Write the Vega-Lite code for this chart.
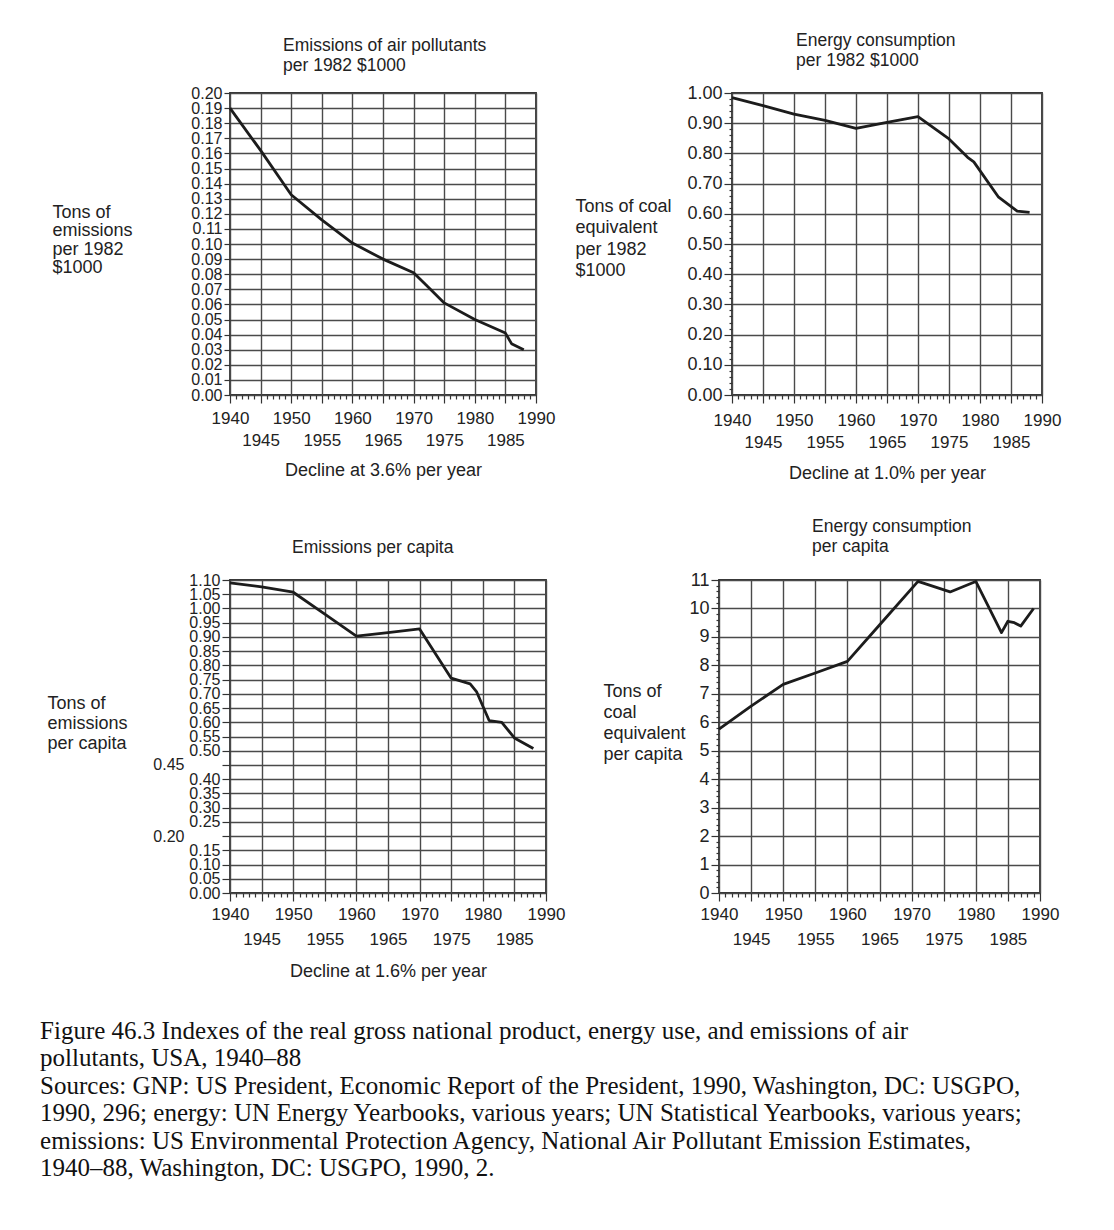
{
  "$schema": "https://vega.github.io/schema/vega-lite/v6.json",
  "background": "white",
  "padding": {"left": 40, "top": 30, "right": 10, "bottom": 10},
  "config": {
    "font": "Liberation Sans",
    "view": {"stroke": "#333", "strokeWidth": 1.8},
    "axis": {
      "labelFont": "Liberation Sans", "labelFontSize": 17, "labelColor": "#222",
      "titleFont": "Liberation Sans", "titleFontSize": 18, "titleFontWeight": "normal", "titleColor": "#222",
      "gridColor": "#4a4a4a", "gridWidth": 1.4, "tickColor": "#333", "tickWidth": 1.2,
      "domain": false, "labelOverlap": false, "labelFlush": false
    },
    "title": {"font": "Liberation Sans", "fontSize": 17.5, "fontWeight": "normal", "color": "#222", "anchor": "start", "frame": "group", "lineHeight": 20, "offset": 11},
    "line": {"color": "#1c1c1c", "strokeWidth": 2.8, "strokeJoin": "round"}
  },
  "title": {
    "text": [
      "Figure 46.3  Indexes of the real gross national product, energy use, and emissions of air",
      "pollutants, USA, 1940–88",
      "Sources: GNP: US President, Economic Report of the President, 1990, Washington, DC: USGPO,",
      "1990, 296; energy: UN Energy Yearbooks, various years; UN Statistical Yearbooks, various years;",
      "emissions: US Environmental Protection Agency, National Air Pollutant Emission Estimates,",
      "1940–88, Washington, DC: USGPO, 1990, 2."
    ],
    "orient": "bottom", "anchor": "start", "frame": "bounds",
    "font": "Liberation Serif", "fontSize": 25, "fontWeight": "normal", "lineHeight": 27.5,
    "color": "#111", "offset": 38, "dx": -6
  },
  "datasets": {
    "tl": [
      {"year": 1940, "value": 0.190}, {"year": 1945, "value": 0.162}, {"year": 1950, "value": 0.1326},
      {"year": 1955, "value": 0.116}, {"year": 1960, "value": 0.1006}, {"year": 1965, "value": 0.090},
      {"year": 1970, "value": 0.081}, {"year": 1972, "value": 0.073}, {"year": 1975, "value": 0.061},
      {"year": 1980, "value": 0.050}, {"year": 1985, "value": 0.041}, {"year": 1986, "value": 0.034},
      {"year": 1988, "value": 0.030}
    ],
    "tr": [
      {"year": 1940, "value": 0.985}, {"year": 1945, "value": 0.958}, {"year": 1950, "value": 0.930},
      {"year": 1955, "value": 0.909}, {"year": 1960, "value": 0.883}, {"year": 1965, "value": 0.903},
      {"year": 1970, "value": 0.922}, {"year": 1975, "value": 0.848}, {"year": 1978, "value": 0.787},
      {"year": 1979, "value": 0.772}, {"year": 1983, "value": 0.655}, {"year": 1986, "value": 0.609},
      {"year": 1988, "value": 0.605}
    ],
    "bl": [
      {"year": 1940, "value": 1.09}, {"year": 1945, "value": 1.076}, {"year": 1950, "value": 1.057},
      {"year": 1955, "value": 0.98}, {"year": 1960, "value": 0.903}, {"year": 1965, "value": 0.915},
      {"year": 1970, "value": 0.928}, {"year": 1975, "value": 0.755}, {"year": 1978, "value": 0.735},
      {"year": 1979, "value": 0.708}, {"year": 1981, "value": 0.606}, {"year": 1983, "value": 0.600},
      {"year": 1985, "value": 0.545}, {"year": 1988, "value": 0.508}
    ],
    "br": [
      {"year": 1940, "value": 5.76}, {"year": 1945, "value": 6.57}, {"year": 1950, "value": 7.33},
      {"year": 1955, "value": 7.73}, {"year": 1960, "value": 8.14}, {"year": 1965, "value": 9.42},
      {"year": 1971, "value": 10.95}, {"year": 1976, "value": 10.58}, {"year": 1980, "value": 10.95},
      {"year": 1984, "value": 9.15}, {"year": 1985, "value": 9.55}, {"year": 1986, "value": 9.5},
      {"year": 1987, "value": 9.38}, {"year": 1989, "value": 10.0}
    ]
  },
  "spacing": 33,
  "vconcat": [
    {
      "spacing": 18,
      "hconcat": [
        {
          "data": {"name": "tl"},
          "width": 306, "height": 302,
          "title": {"text": ["Emissions of air pollutants", "per 1982 $1000"], "dx": 53},
          "mark": {"type": "line"},
          "encoding": {
            "x": {"field": "year", "type": "quantitative", "scale": {"domain": [1940, 1990], "nice": false, "zero": false},
              "axis": {"values": [1940,1941,1942,1943,1944,1945,1946,1947,1948,1949,1950,1951,1952,1953,1954,1955,1956,1957,1958,1959,1960,1961,1962,1963,1964,1965,1966,1967,1968,1969,1970,1971,1972,1973,1974,1975,1976,1977,1978,1979,1980,1981,1982,1983,1984,1985,1986,1987,1988,1989,1990],
                "format": "d", "labelExpr": "datum.value % 5 == 0 ? datum.label : ''",
                "tickSize": {"condition": {"test": "datum.value % 5 == 0", "value": 8}, "value": 4},
                "gridOpacity": {"condition": {"test": "datum.value % 5 == 0", "value": 1}, "value": 0},
                "labelPadding": {"condition": {"test": "datum.value % 10 == 5", "value": 29}, "value": 7},
                "title": "Decline at 3.6% per year", "titlePadding": 13}},
            "y": {"field": "value", "type": "quantitative", "scale": {"domain": [0, 0.2], "nice": false},
              "axis": {"values": [0,0.01,0.02,0.03,0.04,0.05,0.06,0.07,0.08,0.09,0.1,0.11,0.12,0.13,0.14,0.15,0.16,0.17,0.18,0.19,0.2],
                "format": ".2f", "tickSize": 6, "labelPadding": 2, "labelFontSize": 16,
                "title": ["Tons of", "emissions", "per 1982", "$1000"], "titleAngle": 0, "titleAlign": "left", "titleBaseline": "top",
                "titleX": -178, "titleY": 110, "titleLineHeight": 18.5}}
          }
        },
        {
          "data": {"name": "tr"},
          "width": 310, "height": 302,
          "title": {"text": ["Energy consumption", "per 1982 $1000"], "dx": 64, "offset": 15},
          "mark": {"type": "line"},
          "encoding": {
            "x": {"field": "year", "type": "quantitative", "scale": {"domain": [1940, 1990], "nice": false, "zero": false},
              "axis": {"values": [1940,1941,1942,1943,1944,1945,1946,1947,1948,1949,1950,1951,1952,1953,1954,1955,1956,1957,1958,1959,1960,1961,1962,1963,1964,1965,1966,1967,1968,1969,1970,1971,1972,1973,1974,1975,1976,1977,1978,1979,1980,1981,1982,1983,1984,1985,1986,1987,1988,1989,1990],
                "format": "d", "labelExpr": "datum.value % 5 == 0 ? datum.label : ''",
                "tickSize": {"condition": {"test": "datum.value % 5 == 0", "value": 8}, "value": 4},
                "gridOpacity": {"condition": {"test": "datum.value % 5 == 0", "value": 1}, "value": 0},
                "labelPadding": {"condition": {"test": "datum.value % 10 == 5", "value": 31}, "value": 9},
                "title": "Decline at 1.0% per year", "titlePadding": 14}},
            "y": {"field": "value", "type": "quantitative", "scale": {"domain": [0, 1], "nice": false},
              "axis": {"values": [0,0.02,0.04,0.06,0.08,0.1,0.12,0.14,0.16,0.18,0.2,0.22,0.24,0.26,0.28,0.3,0.32,0.34,0.36,0.38,0.4,0.42,0.44,0.46,0.48,0.5,0.52,0.54,0.56,0.58,0.6,0.62,0.64,0.66,0.68,0.7,0.72,0.74,0.76,0.78,0.8,0.82,0.84,0.86,0.88,0.9,0.92,0.94,0.96,0.98,1],
                "format": ".2f", "labelFontSize": 18,
                "labelExpr": "abs(datum.value*10 - round(datum.value*10)) < 0.001 ? datum.label : ''",
                "tickSize": {"condition": {"test": "abs(datum.value*10 - round(datum.value*10)) < 0.001", "value": 8}, "value": 3},
                "gridOpacity": {"condition": {"test": "abs(datum.value*10 - round(datum.value*10)) < 0.001", "value": 1}, "value": 0},
                "labelPadding": 2,
                "title": ["Tons of coal", "equivalent", "per 1982", "$1000"], "titleAngle": 0, "titleAlign": "left", "titleBaseline": "top",
                "titleX": -157, "titleY": 104, "titleLineHeight": 21.5}}
          }
        }
      ]
    },
    {
      "spacing": 36,
      "hconcat": [
        {
          "data": {"name": "bl"},
          "width": 316, "height": 313,
          "title": {"text": "Emissions per capita", "dx": 62, "offset": 16},
          "mark": {"type": "line"},
          "encoding": {
            "x": {"field": "year", "type": "quantitative", "scale": {"domain": [1940, 1990], "nice": false, "zero": false},
              "axis": {"values": [1940,1941,1942,1943,1944,1945,1946,1947,1948,1949,1950,1951,1952,1953,1954,1955,1956,1957,1958,1959,1960,1961,1962,1963,1964,1965,1966,1967,1968,1969,1970,1971,1972,1973,1974,1975,1976,1977,1978,1979,1980,1981,1982,1983,1984,1985,1986,1987,1988,1989,1990],
                "format": "d", "labelExpr": "datum.value % 5 == 0 ? datum.label : ''",
                "tickSize": {"condition": {"test": "datum.value % 5 == 0", "value": 8}, "value": 4},
                "gridOpacity": {"condition": {"test": "datum.value % 5 == 0", "value": 1}, "value": 0},
                "labelPadding": {"condition": {"test": "datum.value % 10 == 5", "value": 30}, "value": 5},
                "title": "Decline at 1.6% per year", "titlePadding": 15}},
            "y": {"field": "value", "type": "quantitative", "scale": {"domain": [0, 1.1], "nice": false},
              "axis": {"values": [0,0.05,0.1,0.15,0.2,0.25,0.3,0.35,0.4,0.45,0.5,0.55,0.6,0.65,0.7,0.75,0.8,0.85,0.9,0.95,1,1.05,1.1],
                "format": ".2f", "tickSize": 8, "labelFontSize": 16,
                "labelPadding": {"condition": {"test": "abs(datum.value - 0.45) < 0.001 || abs(datum.value - 0.2) < 0.001", "value": 38}, "value": 2},
                "title": ["Tons of", "emissions", "per capita"], "titleAngle": 0, "titleAlign": "left", "titleBaseline": "top",
                "titleX": -183, "titleY": 114, "titleLineHeight": 20}}
          }
        },
        {
          "data": {"name": "br"},
          "width": 321, "height": 313,
          "title": {"text": ["Energy consumption", "per capita"], "dx": 93, "offset": 16},
          "mark": {"type": "line"},
          "encoding": {
            "x": {"field": "year", "type": "quantitative", "scale": {"domain": [1940, 1990], "nice": false, "zero": false},
              "axis": {"values": [1940,1941,1942,1943,1944,1945,1946,1947,1948,1949,1950,1951,1952,1953,1954,1955,1956,1957,1958,1959,1960,1961,1962,1963,1964,1965,1966,1967,1968,1969,1970,1971,1972,1973,1974,1975,1976,1977,1978,1979,1980,1981,1982,1983,1984,1985,1986,1987,1988,1989,1990],
                "format": "d", "labelExpr": "datum.value % 5 == 0 ? datum.label : ''",
                "tickSize": {"condition": {"test": "datum.value % 5 == 0", "value": 8}, "value": 4},
                "gridOpacity": {"condition": {"test": "datum.value % 5 == 0", "value": 1}, "value": 0},
                "labelPadding": {"condition": {"test": "datum.value % 10 == 5", "value": 30}, "value": 5},
                "title": null}},
            "y": {"field": "value", "type": "quantitative", "scale": {"domain": [0, 11], "nice": false},
              "axis": {"values": [0,0.2,0.4,0.6,0.8,1,1.2,1.4,1.6,1.8,2,2.2,2.4,2.6,2.8,3,3.2,3.4,3.6,3.8,4,4.2,4.4,4.6,4.8,5,5.2,5.4,5.6,5.8,6,6.2,6.4,6.6,6.8,7,7.2,7.4,7.6,7.8,8,8.2,8.4,8.6,8.8,9,9.2,9.4,9.6,9.8,10,10.2,10.4,10.6,10.8,11],
                "labelFontSize": 18,
                "labelExpr": "abs(datum.value - round(datum.value)) < 0.001 ? format(datum.value, 'd') : ''",
                "tickSize": {"condition": {"test": "abs(datum.value - round(datum.value)) < 0.001", "value": 8}, "value": 3},
                "gridOpacity": {"condition": {"test": "abs(datum.value - round(datum.value)) < 0.001", "value": 1}, "value": 0},
                "labelPadding": 2,
                "title": ["Tons of", "coal", "equivalent", "per capita"], "titleAngle": 0, "titleAlign": "left", "titleBaseline": "top",
                "titleX": -116, "titleY": 102, "titleLineHeight": 21}}
          }
        }
      ]
    }
  ]
}
